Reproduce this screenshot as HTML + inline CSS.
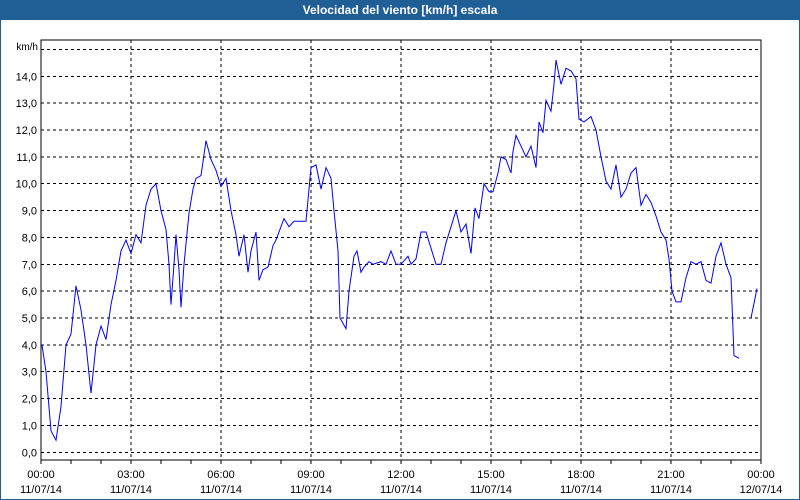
<!DOCTYPE html>
<html><head><meta charset="utf-8"><style>
html,body{margin:0;padding:0;background:#fff}
#win{position:relative;width:800px;height:500px;box-sizing:border-box;border:1px solid #1f5f96;border-top:none;background:#fff;font-family:"Liberation Sans",sans-serif}
#title{position:absolute;left:-1px;top:0;width:800px;height:20px;background:#1f5f96;color:#fff;font-weight:bold;font-size:12px;line-height:20px;text-align:center}
svg{position:absolute;left:-1px;top:0}
</style></head><body>
<div id="win">
<div id="title">Velocidad del viento [km/h] escala</div>
<svg id="chart" width="800" height="500"></svg>
</div>
<script>
const minutes=[2,10,20,30,40,50,60,70,80,90,100,110,120,130,140,150,160,170,180,190,200,210,220,230,240,250,256,260,266,270,276,280,286,296,304,310,320,330,340,350,360,370,380,390,396,406,414,420,430,436,444,454,464,470,486,496,506,530,540,550,560,570,580,586,594,598,610,616,626,632,640,646,656,664,680,690,700,710,720,734,740,750,760,770,780,790,800,810,820,830,840,850,860,868,876,886,896,904,914,920,930,940,944,950,960,970,980,990,996,1004,1010,1020,1026,1030,1040,1050,1060,1070,1076,1086,1100,1110,1120,1130,1140,1150,1160,1170,1180,1190,1200,1210,1220,1230,1240,1250,1256,1262,1270,1280,1290,1300,1310,1320,1330,1340,1350,1360,1370,1380,1386,1396,1410,1420,1432];
const speeds=[4.0,3.0,0.8,0.45,1.7,4.0,4.4,6.2,5.3,4.0,2.2,4.0,4.7,4.2,5.5,6.4,7.5,7.9,7.4,8.1,7.8,9.2,9.8,10.0,9.0,8.3,7.0,5.5,7.0,8.1,6.8,5.4,7.0,8.9,9.8,10.2,10.3,11.6,10.9,10.5,9.9,10.2,9.0,8.1,7.3,8.1,6.7,7.5,8.2,6.4,6.8,6.9,7.7,7.9,8.7,8.4,8.6,8.6,10.6,10.7,9.8,10.6,10.2,9.0,7.5,5.0,4.6,6.0,7.3,7.5,6.7,6.9,7.1,7.0,7.1,7.0,7.5,7.0,7.0,7.3,7.0,7.2,8.2,8.2,7.6,7.0,7.0,7.8,8.4,9.0,8.2,8.5,7.4,9.1,8.7,10.0,9.7,9.7,10.4,11.0,10.9,10.4,11.2,11.8,11.4,11.0,11.4,10.6,12.3,11.9,13.1,12.7,13.7,14.6,13.7,14.3,14.2,13.9,12.4,12.3,12.5,12.0,11.0,10.1,9.8,10.7,9.5,9.8,10.4,10.6,9.2,9.6,9.3,8.8,8.2,7.9,7.2,6.0,5.6,5.6,6.5,7.1,7.0,7.1,6.4,6.3,7.3,7.8,7.0,6.5,3.6,3.5,null,5.0,6.1];
const yTicks=["0,0","1,0","2,0","3,0","4,0","5,0","6,0","7,0","8,0","9,0","10,0","11,0","12,0","13,0","14,0"];
const xTimes=["00:00","03:00","06:00","09:00","12:00","15:00","18:00","21:00","00:00"];
const xDates=["11/07/14","11/07/14","11/07/14","11/07/14","11/07/14","11/07/14","11/07/14","11/07/14","12/07/14"];
const L=41,R=761,T=40,B=460,Y0=452.3,UNIT=26.86;
const xs=m=>L+m/1440*(R-L);
const ys=v=>Y0-v*UNIT;
const svg=document.getElementById('chart');
const NS='http://www.w3.org/2000/svg';
function mk(tag,attrs){const e=document.createElementNS(NS,tag);for(const k in attrs)e.setAttribute(k,attrs[k]);svg.appendChild(e);return e;}
// horizontal grid
for(let i=0;i<=15;i++){const y=ys(i);
const g=mk('line',{x1:L,x2:R,y1:y,y2:y,stroke:'#000','stroke-dasharray':'3,3','stroke-width':1,'shape-rendering':'crispEdges'});


if(i<yTicks.length){const t=mk('text',{x:L-4,y:y+4,'text-anchor':'end','font-size':11,'font-family':'Liberation Sans, sans-serif',fill:'#000'});t.textContent=yTicks[i];

}}
const u=mk('text',{x:L-3,y:T+10,'text-anchor':'end','font-size':10,'font-family':'Liberation Sans, sans-serif',fill:'#000'});u.textContent='km/h';


// vertical grid + labels
for(let i=0;i<xTimes.length;i++){const x=xs(i*180);
if(i>0&&i<xTimes.length-1){const g=mk('line',{x1:x,x2:x,y1:T,y2:B,stroke:'#000','stroke-dasharray':'3,3','shape-rendering':'crispEdges'});

}
const t1=mk('text',{x:x,y:478,'text-anchor':'middle','font-size':11,'font-family':'Liberation Sans, sans-serif'});t1.textContent=xTimes[i];


const t2=mk('text',{x:x,y:493,'text-anchor':'middle','font-size':11,'font-family':'Liberation Sans, sans-serif'});t2.textContent=xDates[i];

}
for(let h=0;h<=24;h++){const x=xs(h*60);const tk=mk('line',{x1:x,x2:x,y1:B,y2:B+4,stroke:'#000','shape-rendering':'crispEdges'});

}
const box=mk('rect',{x:L,y:T,width:R-L,height:B-T,fill:'none',stroke:'#000','shape-rendering':'crispEdges'});


// series
let d='',pen=false;
for(let i=0;i<minutes.length;i++){const v=speeds[i];if(v===null){pen=false;continue;}
d+=(pen?'L':'M')+xs(minutes[i]).toFixed(1)+','+ys(v).toFixed(1);pen=true;}
const p=mk('path',{d:d,fill:'none',stroke:'#0000ff','stroke-width':1});


</script>
</body></html>
